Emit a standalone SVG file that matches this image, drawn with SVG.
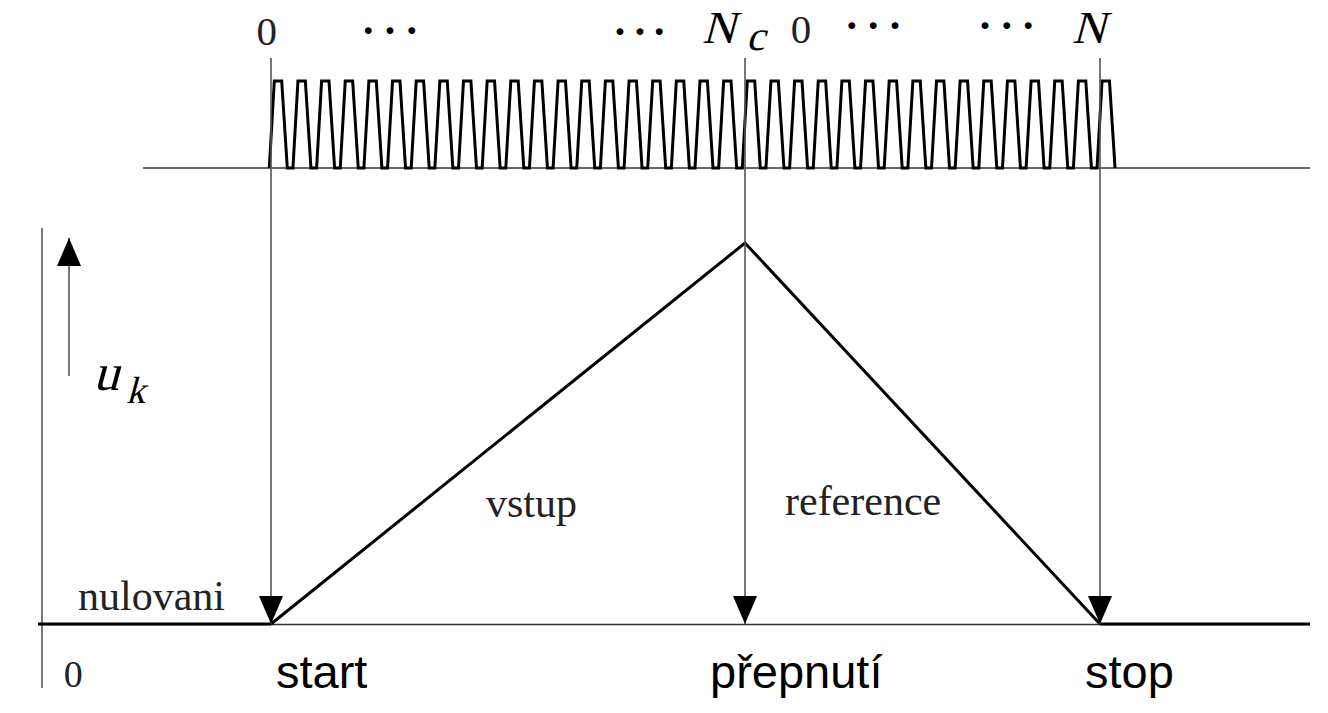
<svg xmlns="http://www.w3.org/2000/svg" width="1328" height="713" viewBox="0 0 1328 713">
<style>
.thin{stroke:#333;stroke-width:1.5;fill:none}
.gray{stroke:#555;stroke-width:1.6;fill:none}
.thick{stroke:#000;stroke-width:3;fill:none;stroke-linejoin:miter}
.serif{font-family:"Liberation Serif","Times New Roman",serif;fill:#222}
.ital{font-family:"Liberation Serif","Times New Roman",serif;fill:#000}
.sans{font-family:"Liberation Sans",Arial,sans-serif;fill:#000}
.dots{font-family:"Liberation Serif",serif;font-size:42px;font-weight:bold;fill:#000}
</style>
<defs>
<marker id="ah" viewBox="0 0 28 24" refX="28" refY="12" markerWidth="28" markerHeight="24" markerUnits="userSpaceOnUse" orient="auto">
<path d="M0,0 L28,12 L0,24 z" fill="#000"/>
</marker>
</defs>
<rect width="1328" height="713" fill="#fff"/>
<g id="axes">
<line class="thin" x1="143" y1="168" x2="1310" y2="168"/>
<line class="thin" x1="38" y1="624.5" x2="1310" y2="624.5"/>
<line class="gray" x1="42" y1="228" x2="42" y2="688"/>
<line class="thick" x1="38" y1="624" x2="271" y2="624"/>
<line class="thick" x1="1100" y1="624" x2="1310" y2="624"/>
</g>
<g id="waveform">
<path class="thick" d="M269.3,168
l5,-87h7.4l5.6,87h5.65 l5,-87h7.4l5.6,87h5.65 l5,-87h7.4l5.6,87h5.65 l5,-87h7.4l5.6,87h5.65 l5,-87h7.4l5.6,87h5.65 l5,-87h7.4l5.6,87h5.65 l5,-87h7.4l5.6,87h5.65
l5,-87h7.4l5.6,87h5.65 l5,-87h7.4l5.6,87h5.65 l5,-87h7.4l5.6,87h5.65 l5,-87h7.4l5.6,87h5.65 l5,-87h7.4l5.6,87h5.65 l5,-87h7.4l5.6,87h5.65 l5,-87h7.4l5.6,87h5.65
l5,-87h7.4l5.6,87h5.65 l5,-87h7.4l5.6,87h5.65 l5,-87h7.4l5.6,87h5.65 l5,-87h7.4l5.6,87h5.65 l5,-87h7.4l5.6,87h5.65 l5,-87h7.4l5.6,87h5.65 l5,-87h7.4l5.6,87h5.65
l5,-87h7.4l5.6,87h5.65 l5,-87h7.4l5.6,87h5.65 l5,-87h7.4l5.6,87h5.65 l5,-87h7.4l5.6,87h5.65 l5,-87h7.4l5.6,87h5.65 l5,-87h7.4l5.6,87h5.65 l5,-87h7.4l5.6,87h5.65
l5,-87h7.4l5.6,87h5.65 l5,-87h7.4l5.6,87h5.65 l5,-87h7.4l5.6,87h5.65 l5,-87h7.4l5.6,87h5.65 l5,-87h7.4l5.6,87h5.65 l5,-87h7.4l5.6,87h5.65 l5,-87h7.4l5.6,87h5.65
l5,-87h7.4l5.6,87"/>
</g>
<g id="triangle">
<path class="thick" d="M271,624 L745,243 L1100,624"/>
</g>
<g id="connectors">
<line class="gray" x1="271" y1="58" x2="271" y2="624" marker-end="url(#ah)"/>
<line class="gray" x1="745" y1="58" x2="745" y2="624" marker-end="url(#ah)"/>
<line class="gray" x1="1100" y1="58" x2="1100" y2="624" marker-end="url(#ah)"/>
<line class="gray" x1="69" y1="376" x2="69" y2="238" marker-end="url(#ah)"/>
</g>
<g id="top-labels">
<text class="serif" x="266.7" y="45" font-size="41" text-anchor="middle">0</text>
<text class="dots" x="368.3 390 411.7" y="44.5" text-anchor="middle">···</text>
<text class="dots" x="620 640 659.3" y="45.5" text-anchor="middle">···</text>
<text class="ital" transform="translate(702,43) skewX(-15)" font-size="46">N</text>
<text class="ital" transform="translate(746,50) skewX(-15)" font-size="42">c</text>
<text class="serif" x="801" y="43.3" font-size="41" text-anchor="middle">0</text>
<text class="dots" x="851.7 873.3 895" y="40" text-anchor="middle">···</text>
<text class="dots" x="985 1006.7 1028.3" y="40" text-anchor="middle">···</text>
<text class="ital" transform="translate(1072,43.3) skewX(-15)" font-size="46">N</text>
</g>
<g id="uk-label">
<text class="ital" transform="translate(93,390) skewX(-15)" font-size="52">u</text>
<text class="ital" transform="translate(126,403) skewX(-15)" font-size="38">k</text>
</g>
<g id="segment-labels">
<text class="serif" x="78" y="610" font-size="42">nulovani</text>
<text class="serif" x="486" y="517" font-size="42">vstup</text>
<text class="serif" x="785" y="515" font-size="42">reference</text>
<text class="serif" x="73.3" y="686.7" font-size="38" text-anchor="middle">0</text>
</g>
<g id="event-labels">
<text class="sans" x="276" y="688.3" font-size="47">start</text>
<text class="sans" x="710" y="688.3" font-size="47">přepnutí</text>
<text class="sans" x="1085" y="688.3" font-size="47">stop</text>
</g>
</svg>
